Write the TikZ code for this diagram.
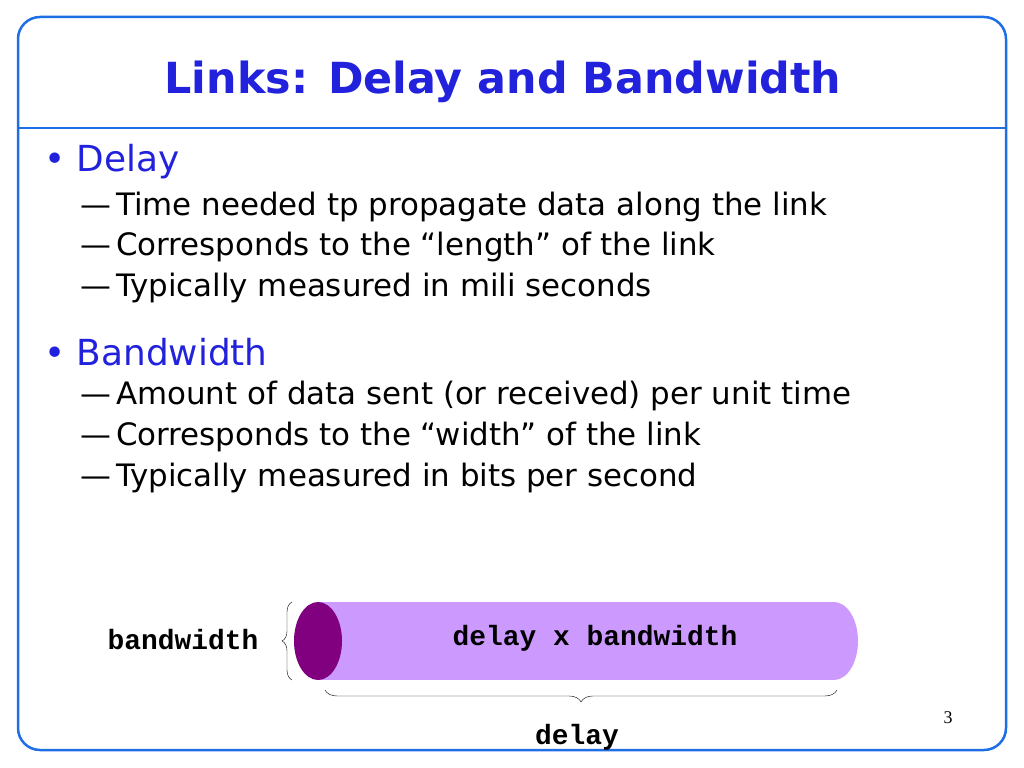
\documentclass[tikz,border=0pt]{standalone}
\usepackage{fontspec}
\setmainfont{DejaVu Sans}
\setmonofont{Liberation Mono}
\newfontfamily\pagefont{Liberation Serif}
\usetikzlibrary{decorations.pathreplacing}
\definecolor{frameblue}{HTML}{1E6FE6}
\definecolor{textblue}{HTML}{2222DD}
\definecolor{lightpurple}{HTML}{CC99FF}
\definecolor{darkpurple}{HTML}{800080}
\tikzset{
 head/.style={anchor=west,text=textblue,font=\fontsize{36}{36}\selectfont,inner sep=0},
 item/.style={anchor=west,font=\fontsize{31}{31}\selectfont,inner sep=0},
 mono/.style={font=\fontsize{28}{28}\selectfont\ttfamily\bfseries,inner sep=0},
 brc/.style={draw=black,thin,decorate,decoration={brace,amplitude=10}}
}
\begin{document}
\begin{tikzpicture}[x=1bp,y=-1bp]
\useasboundingbox (0,0) rectangle (1024,768);
\draw[frameblue,line width=2.5bp,rounded corners=22bp] (18,17) rectangle (1006,750);
\draw[frameblue,line width=2.5bp] (18,128) -- (1006,128);
\node[text=textblue,font=\fontsize{43}{43}\selectfont\bfseries] (title) at (503,82) {Links: Delay and Bandwidth};
\node[head] (b1) at (44,162) {• Delay};
\node[item] (i1) at (80,207) {—\,Time needed tp propagate data along the link};
\node[item] (i2) at (80,247) {—\,Corresponds to the “length” of the link};
\node[item] (i3) at (80,288) {—\,Typically measured in mili seconds};
\node[head] (b2) at (44,352) {• Bandwidth};
\node[item] (i4) at (80,396) {—\,Amount of data sent (or received) per unit time};
\node[item] (i5) at (80,437) {—\,Corresponds to the “width” of the link};
\node[item] (i6) at (80,478) {—\,Typically measured in bits per second};
% cylinder
\fill[lightpurple] (318,602) rectangle (834,680);
\fill[lightpurple] (834,641) ellipse[x radius=24,y radius=39];
\fill[darkpurple] (318,641) ellipse[x radius=24,y radius=39];
\node[mono] (dxb) at (595,638) {delay x bandwidth};
\node[mono] (bw) at (183,640) {bandwidth};
\coordinate (lb1) at (292,680);
\coordinate (lb2) at (292,602);
\draw[brc] (lb1) -- (lb2);
\coordinate (bb1) at (837,690);
\coordinate (bb2) at (325,690);
\draw[brc,decoration={brace,amplitude=12}] (bb1) -- (bb2);
\node[mono] (dl) at (577,737) {delay};
\node[font=\fontsize{18}{18}\selectfont\pagefont,inner sep=0] (pg) at (948,718) {3};
\end{tikzpicture}
\end{document}
